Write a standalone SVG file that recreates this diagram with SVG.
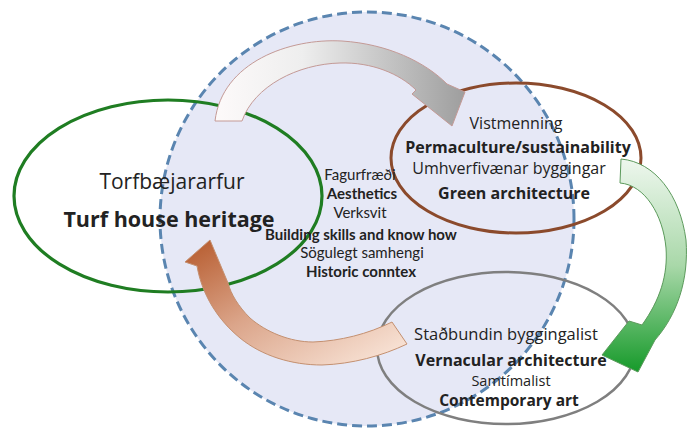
<svg xmlns="http://www.w3.org/2000/svg" width="688" height="434" viewBox="0 0 688 434">
<defs>
<linearGradient id="gTop" x1="0" y1="0" x2="1" y2="0">
<stop offset="0" stop-color="#fdfafa"/><stop offset="0.35" stop-color="#eeeeee"/><stop offset="1" stop-color="#9e9e9e"/>
</linearGradient>
<linearGradient id="gGreen" x1="0" y1="0" x2="0" y2="1">
<stop offset="0" stop-color="#eef7ee"/><stop offset="0.5" stop-color="#a9d8a9"/><stop offset="1" stop-color="#169a2a"/>
</linearGradient>
<linearGradient id="gBrown" x1="1" y1="1" x2="0" y2="0">
<stop offset="0" stop-color="#fcebe0"/><stop offset="0.55" stop-color="#dba58a"/><stop offset="1" stop-color="#b5582a"/>
</linearGradient>
<style>
.t{font-family:"Open Sans","DejaVu Sans",sans-serif;fill:#222;text-anchor:middle}
.b{font-weight:bold}
.m{font-family:Lato,"Liberation Sans",sans-serif;fill:#222;text-anchor:middle;font-size:15px}
.ell{fill:none}
</style>
</defs>
<rect width="688" height="434" fill="#ffffff"/>
<g id="scope">
<circle cx="367" cy="219" r="207" fill="#e6e8f6" stroke="#5a85b0" stroke-width="3" stroke-dasharray="10 5"/>
</g>
<g id="turf">
<ellipse class="ell" cx="168" cy="196" rx="154" ry="96" stroke="#1f7d22" stroke-width="3.2"/>
</g>
<g id="perma">
<ellipse class="ell" cx="516" cy="158" rx="125" ry="75" stroke="#8b4a2c" stroke-width="3"/>
</g>
<g id="vernacular">
<ellipse class="ell" cx="506" cy="348" rx="129" ry="76" stroke="#7f7f7f" stroke-width="2.5"/>
</g>
<g id="connectors">
<path d="M215,121 C222,62 290,38 342,41 C388,44 425,62 447,84 L465,92 L452,126 L412,94 L416,90 C400,74 372,62 340,63 C298,64 254,86 242,121 Z" fill="url(#gTop)" stroke="#c49a96" stroke-width="1"/>
<path d="M621,159 C655,162 680,195 686,240 C689,280 677,315 655,340 L638,372 L602,355 L629,321 L642,325 C660,300 668,275 666,248 C663,215 645,185 620,183 Z" fill="url(#gGreen)" stroke="#5c9a5c" stroke-width="1"/>
<path d="M392,322 C368,334 340,341 313,342 C290,342 266,332 250,318 C238,306 231,294 228,283 L210,240 L185,262 L197,266 C202,295 218,320 240,338 C262,356 292,365 322,365 C352,364 382,356 407,344 Z" fill="url(#gBrown)" stroke="#c49070" stroke-width="1"/>
</g>
<g id="turf-text">
<text class="t" x="172" y="189" font-size="21">Torfbæjararfur</text>
<text class="t b" x="169" y="227" font-size="21.5">Turf house heritage</text>
</g>
<g id="scope-text">
<text class="m" x="360" y="180">Fagurfræði</text>
<text class="m b" x="362" y="199">Aesthetics</text>
<text class="m" x="360" y="218">Verksvit</text>
<text class="m b" x="361" y="240">Building skills and know how</text>
<text class="m" x="362" y="258">Sögulegt samhengi</text>
<text class="m b" x="361" y="277">Historic conntex</text>
</g>
<g id="perma-text">
<text class="t" x="516" y="129" font-size="16">Vistmenning</text>
<text class="t b" x="518" y="153" font-size="16">Permaculture/sustainability</text>
<text class="t" x="509" y="174" font-size="16">Umhverfivænar byggingar</text>
<text class="t b" x="514" y="199" font-size="16">Green architecture</text>
</g>
<g id="vernacular-text">
<text class="t" x="506" y="340" font-size="16.5">Staðbundin byggingalist</text>
<text class="t b" x="511" y="366" font-size="16">Vernacular architecture</text>
<text class="t" x="511" y="386" font-size="14.5">Samtímalist</text>
<text class="t b" x="509" y="406" font-size="15.5">Contemporary art</text>
</g>
</svg>
